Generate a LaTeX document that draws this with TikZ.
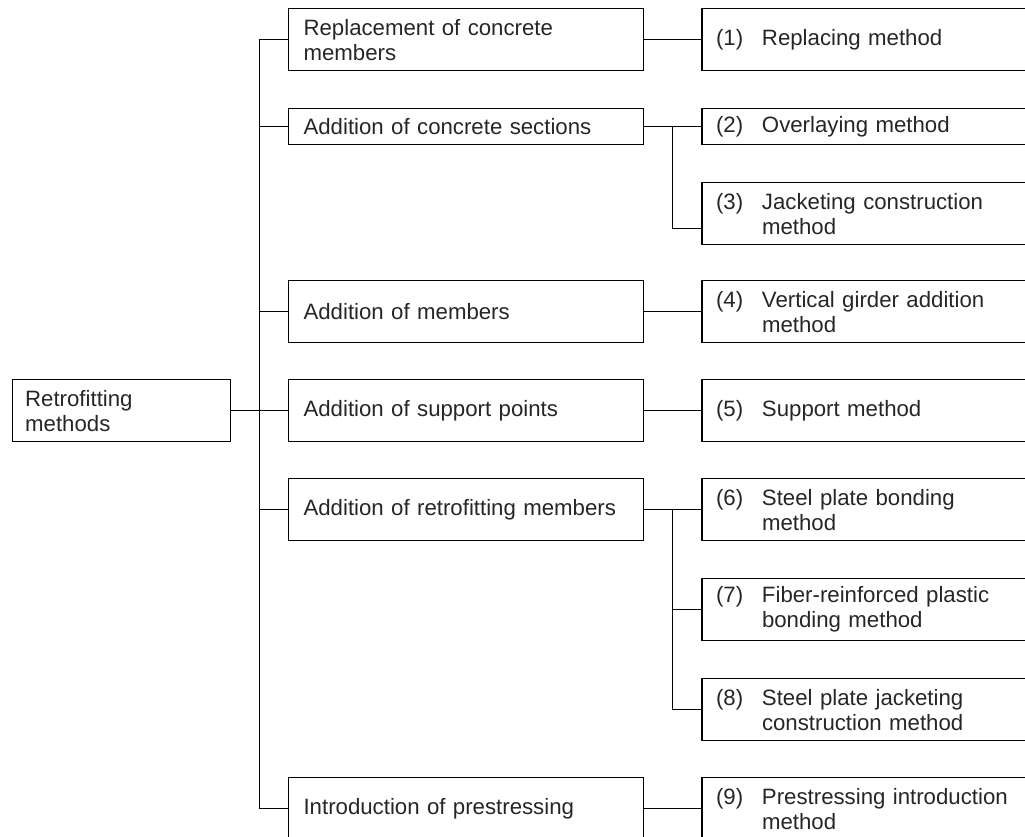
\documentclass[tikz,border=0pt]{standalone}
\usepackage{fontspec}
\setmainfont{Liberation Sans}
\usepackage{tikz}
\usetikzlibrary{positioning,calc}
\setlength{\parindent}{0pt}
\newcommand{\numitem}[2]{\makebox[1.15cm][l]{#1}#2}
\newcommand{\nextline}{\\\hspace*{1.15cm}}

\begin{document}
\begin{tikzpicture}[x=0.025cm, y=-0.025cm, node distance=0.925cm and 1.43cm,
        font=\fontsize{15.8}{17.8}\selectfont, line width=0.8pt,
        box/.style={rectangle, draw, text=black!85, align=left, minimum height=1.55cm},
        rootbox/.style={box, inner xsep=0.325cm, text width=4.8cm},
        group/.style={box, inner xsep=0.375cm, text width=8.125cm},
        method/.style={box, inner xsep=0.35cm, text width=7.775cm}]

        \useasboundingbox (0,0) rectangle (1025,836);
        \clip (0,0) rectangle (1025,836);

        \node[group, anchor=north west] (repl) at (288,8) {Replacement of concrete\\members};
        \node[group, anchor=north west, minimum height=0.9cm] (conc) at (288,108) {Addition of concrete sections};
        \node[group, anchor=north west] (memb) at (288,280) {Addition of members};
        \node[group, anchor=north west] (supp) at (288,379) {Addition of support points};
        \node[group, anchor=north west] (retro) at (288,478) {Addition of retrofitting members};
        \node[group, anchor=north west] (prest) at (288,777) {Introduction of prestressing};

        \node[rootbox, left=of supp] (root) {Retrofitting\\methods};

        \node[method, right=of repl] (m1) {\numitem{(1)}{Replacing method}};
        \node[method, right=of conc, minimum height=0.9cm] (m2) {\numitem{(2)}{Overlaying method}};
        \node[method, below=of m2] (m3) {\numitem{(3)}{Jacketing construction\nextline method}};
        \node[method, right=of memb] (m4) {\numitem{(4)}{Vertical girder addition\nextline method}};
        \node[method, right=of supp] (m5) {\numitem{(5)}{Support method}};
        \node[method, right=of retro] (m6) {\numitem{(6)}{Steel plate bonding\nextline method}};
        \node[method, below=of m6] (m7) {\numitem{(7)}{Fiber-reinforced plastic\nextline bonding method}};
        \node[method, below=of m7] (m8) {\numitem{(8)}{Steel plate jacketing\nextline construction method}};
        \node[method, right=of prest] (m9) {\numitem{(9)}{Prestressing introduction\nextline method}};

        \coordinate (trunk) at ($(root.east)!0.5!(supp.west)$);
        \coordinate (fork3) at ($(conc.east)!0.5!(m2.west)$);
        \coordinate (fork6) at ($(retro.east)!0.5!(m6.west)$);

        \draw (repl.west) -| (trunk) |- (prest.west);
        \draw (conc.west) -- (conc.west -| trunk);
        \draw (memb.west) -- (memb.west -| trunk);
        \draw (root.east) -- (supp.west);
        \draw (retro.west) -- (retro.west -| trunk);

        \draw (repl.east) -- (m1.west);
        \draw (conc.east) -- (m2.west);
        \draw (fork3) |- ([yshift=-0.375cm]m3.west);
        \draw (memb.east) -- (m4.west);
        \draw (supp.east) -- (m5.west);
        \draw (retro.east) -- (m6.west);
        \draw (fork6) |- (m7.west);
        \draw (fork6) |- (m8.west);
        \draw (prest.east) -- (m9.west);
    \end{tikzpicture}
\end{document}
